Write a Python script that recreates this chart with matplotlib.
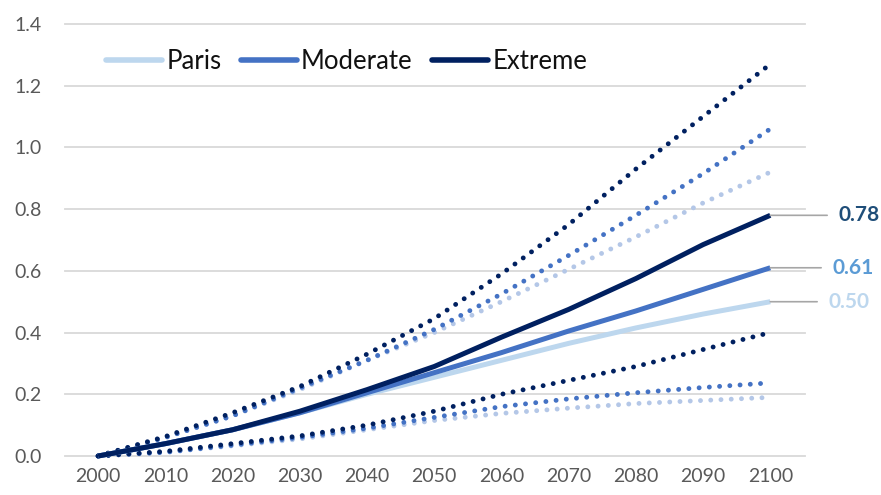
import matplotlib
matplotlib.use("Agg")
import matplotlib.pyplot as plt

plt.rcParams['font.family'] = ['Lato', 'DejaVu Sans']

years = [2000, 2010, 2020, 2030, 2040, 2050, 2060, 2070, 2080, 2090, 2100]

# central projections
paris = [0, 0.04, 0.085, 0.14, 0.20, 0.255, 0.31, 0.365, 0.415, 0.46, 0.50]
moderate = [0, 0.04, 0.085, 0.14, 0.205, 0.27, 0.335, 0.405, 0.47, 0.54, 0.61]
extreme = [0, 0.04, 0.085, 0.145, 0.215, 0.29, 0.385, 0.475, 0.575, 0.685, 0.78]

# upper bounds
paris_hi = [0, 0.06, 0.13, 0.215, 0.31, 0.40, 0.50, 0.605, 0.71, 0.82, 0.92]
moderate_hi = [0, 0.06, 0.13, 0.22, 0.31, 0.41, 0.525, 0.65, 0.78, 0.915, 1.06]
extreme_hi = [0, 0.063, 0.14, 0.225, 0.33, 0.445, 0.59, 0.75, 0.93, 1.10, 1.27]

# lower bounds
paris_lo = [0, 0.012, 0.033, 0.055, 0.085, 0.115, 0.138, 0.155, 0.17, 0.18, 0.19]
moderate_lo = [0, 0.012, 0.035, 0.06, 0.09, 0.125, 0.16, 0.185, 0.205, 0.222, 0.237]
extreme_lo = [0, 0.015, 0.04, 0.065, 0.10, 0.145, 0.20, 0.245, 0.29, 0.345, 0.40]

names = ["Paris", "Moderate", "Extreme"]
line_colors = ["#BDD7EE", "#4472C4", "#002060"]
dot_colors = ["#B4C7E7", "#4472C4", "#002060"]
label_colors = ["#BDD7EE", "#5B9BD5", "#1F4E79"]
yticks = [0.0, 0.2, 0.4, 0.6, 0.8, 1.0, 1.2, 1.4]

fig = plt.figure(figsize=(8.81, 4.95), dpi=100)
ax = fig.add_axes([0.074, 0.0788, 0.840, 0.8727])

for v in yticks:
    ax.axhline(v, color="#D9D9D9", lw=1.3, zorder=0, clip_on=False)

dot_style = (0, (0.01, 2.1))
for hi, lo, c in zip([paris_hi, moderate_hi, extreme_hi],
                     [paris_lo, moderate_lo, extreme_lo], dot_colors):
    for series in (hi, lo):
        ax.plot(years, series, color=c, lw=3.5, linestyle=dot_style,
                dash_capstyle="round", clip_on=False, zorder=2)

handles = []
for series, c, n in zip([paris, moderate, extreme], line_colors, names):
    h, = ax.plot(years, series, color=c, lw=3.6, solid_capstyle="butt",
                 clip_on=False, zorder=3, label=n)
    handles.append(h)

# end-value labels with leader lines
label_offsets = [(58, 0), (62, 0), (68, 0)]
for series, c, (dx, dy) in zip([paris, moderate, extreme], label_colors, label_offsets):
    v = series[-1]
    ax.annotate(f"{v:.2f}", xy=(years[-1], v), xytext=(dx, dy),
                textcoords="offset pixels", ha="left", va="center",
                fontsize=15, fontweight="bold", color=c,
                annotation_clip=False,
                arrowprops=dict(arrowstyle="-", color="#A6A6A6", lw=1.2,
                                relpos=(0, 0.5), shrinkA=6, shrinkB=0))

ax.set_xlim(1995.1, 2105.2)
ax.set_ylim(0, 1.4)
ax.set_xticks(years)
ax.set_yticks(yticks)
ax.set_yticklabels([f"{v:.1f}" for v in yticks])
ax.tick_params(axis="both", length=0, labelsize=14, colors="#595959")
ax.tick_params(axis="y", pad=17)
ax.tick_params(axis="x", pad=9)
for s in ax.spines.values():
    s.set_visible(False)

leg = ax.legend(handles=handles, loc="upper left", bbox_to_anchor=(0.034, 0.978),
                ncol=3, frameon=False, fontsize=18.5, handlelength=2.2,
                columnspacing=0.75, handletextpad=0.15, borderaxespad=0.2)
for t in leg.get_texts():
    t.set_color("#111111")
for ln in leg.get_lines():
    ln.set_solid_capstyle("round")
    ln.set_linewidth(4.0)

fig.savefig("out.png", dpi=100)
